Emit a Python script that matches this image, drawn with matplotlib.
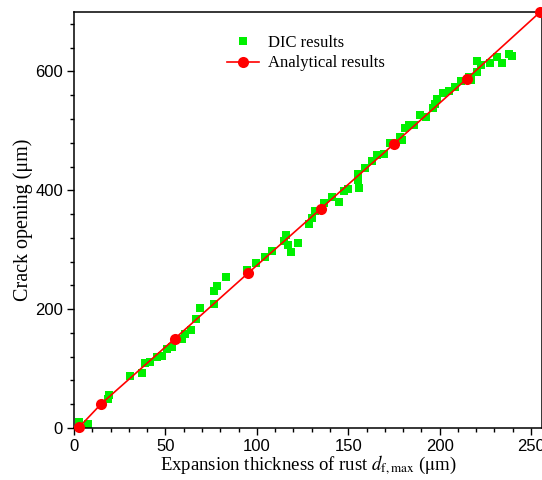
import matplotlib
matplotlib.use("Agg")
import matplotlib.pyplot as plt
from matplotlib.ticker import MultipleLocator

dic_x = [2.5, 7.4, 19.1, 18.8, 30.9, 37.1, 39.0, 41.3, 45.3, 48.0, 50.8, 53.6,
         59.0, 60.8, 64.0, 66.5, 69.0, 76.4, 78.3, 76.8, 83.4, 94.4, 99.7,
         104.4, 108.2, 115.0, 115.8, 117.3, 118.5, 122.6, 128.3, 130.2, 131.9,
         137.0, 141.4, 145.2, 147.6, 149.9, 155.6, 155.6, 156.0, 159.0, 162.8,
         166.0, 169.8, 172.7, 178.4, 179.3, 181.2, 183.0, 186.0, 189.4, 192.8,
         196.6, 197.7, 198.8, 202.0, 204.9, 208.3, 211.6, 216.3, 217.2, 220.4,
         220.6, 222.9, 227.3, 231.4, 234.3, 238.0, 239.4]
dic_y = [10, 6, 56, 49, 87, 93, 109.5, 111, 119.6, 120.7, 133, 136.4,
         150.5, 159, 165.6, 184, 202.7, 230, 238.6, 209.4, 254, 266.7, 278,
         288, 298, 315, 324.5, 307.7, 296.5, 312, 343, 352.6, 364.4,
         379, 388, 381, 399, 401.5, 426.7, 417, 404, 438, 449,
         459.3, 460.4, 480, 490, 484.6, 504, 510, 510, 526.7, 524,
         538, 546, 553, 563, 567.7, 573, 584.5, 591, 585.6, 599.7,
         617.6, 610.9, 613.7, 625, 614.8, 628.9, 626]

# analytical solution
ana_x = [3, 15, 55, 95, 135, 175, 215, 255]
ana_y = [2, 41, 150, 260, 369, 478, 588, 700]

plt.rcParams["mathtext.fontset"] = "stix"
serif = "Liberation Serif"
sans = "Liberation Sans"

fig = plt.figure(figsize=(5.42, 4.8), dpi=100)
ax = fig.add_axes([74 / 542, 52 / 480, 1 - 74 / 542, (428 - 12) / 480])

ax.plot(dic_x, dic_y, linestyle="none", marker="s", markersize=6.2,
        color="#00f000", markeredgewidth=0, label="DIC results")
ax.plot(ana_x, ana_y, color="red", linewidth=1.2, marker="o", markersize=8,
        markeredgewidth=0, label="Analytical results", clip_on=False, zorder=3)

ax.set_xlim(0, 256)
ax.set_ylim(0, 700)
ax.xaxis.set_major_locator(MultipleLocator(50))
ax.xaxis.set_minor_locator(MultipleLocator(10))
ax.yaxis.set_major_locator(MultipleLocator(200))
ax.yaxis.set_minor_locator(MultipleLocator(40))
ax.tick_params(which="both", direction="out", top=False, right=False,
               labelsize=12, width=1)
ax.tick_params(which="major", length=5, pad=3)
ax.tick_params(which="minor", length=3)
for lab in ax.get_xticklabels() + ax.get_yticklabels():
    lab.set_fontfamily(sans)
for s in ax.spines.values():
    s.set_linewidth(1.1)

ax.set_xlabel(r"Expansion thickness of rust $d_{\mathrm{f,max}}$ ($\mathrm{\mu}$m)",
              fontfamily=serif, fontsize=13.5, labelpad=0)
ax.set_ylabel("Crack opening (μm)", fontfamily=serif, fontsize=14.5)
ax.yaxis.set_label_coords(-0.088, 0.5)

leg = ax.legend(loc="upper left", bbox_to_anchor=(0.294, 0.98), frameon=False,
                prop={"family": serif, "size": 12}, handlelength=1.95,
                handletextpad=0.55, labelspacing=0.25)

fig.savefig("out.png", dpi=100)
